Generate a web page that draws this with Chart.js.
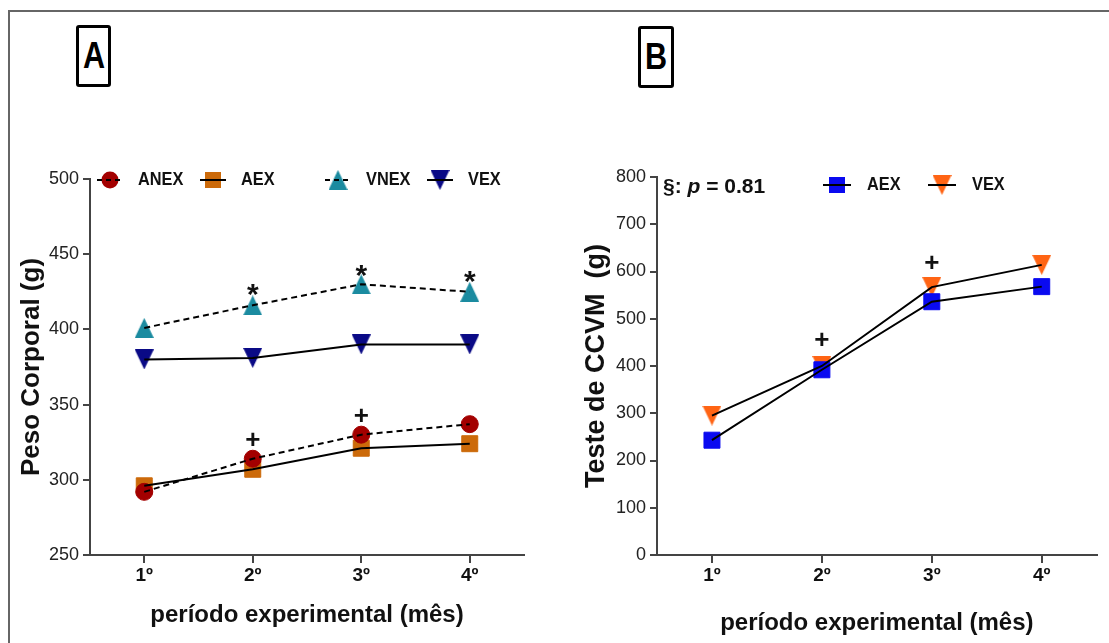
<!DOCTYPE html>
<html>
<head>
<meta charset="utf-8">
<script src="https://cdn.jsdelivr.net/npm/chart.js"></script>
<style>
  body { margin: 0; background: #fff; width: 1109px; height: 643px; overflow: hidden; position: relative; font-family: Arial, "Liberation Sans", sans-serif; }
  #frame { position: absolute; left: 8px; top: 10px; width: 1200px; height: 700px; border-left: 2px solid #666; border-top: 2px solid #666; }
  .tag { position: absolute; border: 3px solid #000; border-radius: 3px; box-sizing: border-box; display: flex; align-items: center; justify-content: center; font: bold 36px Arial, "Liberation Sans", sans-serif; color: #000; }
  .tag span { display: inline-block; transform: scaleX(0.85); }
  canvas { position: absolute; top: 0; }
</style>
</head>
<body>
<div id="frame"></div>
<div class="tag" style="left:76px;top:25px;width:35px;height:62px"><span>A</span></div>
<div class="tag" style="left:638px;top:26px;width:36px;height:62px"><span>B</span></div>
<canvas id="chartA" width="555" height="643" style="left:0"></canvas>
<canvas id="chartB" width="554" height="643" style="left:555px"></canvas>
<script>
// meses do periodo experimental
const months = ['1º', '2º', '3º', '4º'];

// painel A - peso corporal (g)
const anex = [292, 314, 330, 337];
const aexA = [296, 307, 321, 324];
const vnex = [401, 416, 430, 425];
const vexA = [380, 381, 390, 390];
const starA = [null, 427, 440, 436];
const plusA = [null, 326, 342, null];
const ticksA = [250, 300, 350, 400, 450, 500];

// painel B - teste de CCVM (g)
const aexB = [243, 392, 536, 568];
const vexB = [295, 400, 567, 614];
const plusB = [null, 454, 616, null];
const ticksB = [0, 100, 200, 300, 400, 500, 600, 700, 800];

Chart.defaults.font.family = 'Arial, "Liberation Sans", sans-serif';
const drawPoint = Chart.helpers.drawPoint;

// triangulo um pouco mais alto que equilatero, como no original
function tri(color, down) {
  const c = document.createElement('canvas');
  c.width = 19; c.height = 20;
  const g = c.getContext('2d');
  g.fillStyle = color;
  g.beginPath();
  if (down) { g.moveTo(0, 0); g.lineTo(19, 0); g.lineTo(9.5, 20); }
  else { g.moveTo(9.5, 0); g.lineTo(19, 20); g.lineTo(0, 20); }
  g.closePath();
  g.fill();
  return c;
}

// marcador + linha preta por cima (como no GraphPad)
function serie(data, color, style, radius, dashed, ord) {
  return [
    { data, showLine: false, pointStyle: style, pointRadius: radius, pointHoverRadius: radius,
      pointBackgroundColor: color, pointBorderColor: color, pointBorderWidth: 1, order: ord },
    { data, showLine: true, borderColor: '#000', borderWidth: 2, borderDash: dashed ? [6, 4] : [],
      pointRadius: 0, pointHoverRadius: 0, tension: 0, fill: false, order: 0 }
  ];
}

const extras = {
  id: 'extras',
  afterDatasetsDraw(chart, args, o) {
    const { ctx, chartArea, scales: { x, y } } = chart;
    ctx.save();
    ctx.textBaseline = 'middle';
    ctx.textAlign = 'center';
    ctx.fillStyle = '#111';
    for (const m of o.marks) {
      ctx.font = m.font;
      m.data.forEach((v, i) => {
        if (v !== null) ctx.fillText(m.text, x.getPixelForValue(i), y.getPixelForValue(v) + m.dy);
      });
    }
    // legenda
    ctx.textAlign = 'left';
    for (const it of o.legend) {
      const cx = chartArea.left + it.dx, cy = o.legendY;
      ctx.fillStyle = it.color;
      drawPoint(ctx, { pointStyle: it.style, radius: it.radius, rotation: 0, borderWidth: 0 }, cx, cy);
      ctx.strokeStyle = '#000';
      ctx.lineWidth = 2;
      ctx.setLineDash(it.dashed ? [5, 4] : []);
      ctx.beginPath();
      ctx.moveTo(cx - o.seg, cy);
      ctx.lineTo(cx + o.seg, cy);
      ctx.stroke();
      ctx.setLineDash([]);
      ctx.fillStyle = '#111';
      ctx.font = 'bold 19px Arial, "Liberation Sans", sans-serif';
      ctx.save();
      ctx.translate(cx + o.gap, cy);
      ctx.scale(0.86, 1);
      ctx.fillText(it.label, 0, 0);
      ctx.restore();
    }
    if (o.note) {
      let nx = chartArea.left + 6;
      const ny = o.noteY;
      ctx.fillStyle = '#111';
      ctx.font = 'bold 21px Arial, "Liberation Sans", sans-serif';
      ctx.fillText('§: ', nx, ny);
      nx += ctx.measureText('§: ').width;
      ctx.font = 'italic bold 21px Arial, "Liberation Sans", sans-serif';
      ctx.fillText('p', nx, ny);
      nx += ctx.measureText('p').width;
      ctx.font = 'bold 21px Arial, "Liberation Sans", sans-serif';
      ctx.fillText(' = 0.81', nx, ny);
    }
    ctx.restore();
  }
};

function axes(yTicks, yWidth, yTitle, yTitleSize, yTitlePad, xTitlePad) {
  return {
    x: {
      type: 'category', labels: months, offset: true,
      afterFit: s => { s.height = 88; },
      grid: { display: true, drawOnChartArea: false, offset: false, tickLength: 8, color: '#444', lineWidth: 2 },
      border: { display: true, color: '#444', width: 2 },
      ticks: { color: '#111', padding: 1, font: { size: 19, weight: 'bold' } },
      title: { display: true, text: 'período experimental (mês)', color: '#111',
        font: { size: 24, weight: 'bold' }, padding: { top: 0, bottom: xTitlePad } }
    },
    y: {
      min: yTicks[0], max: yTicks[yTicks.length - 1],
      afterBuildTicks: s => { s.ticks = yTicks.map(v => ({ value: v })); },
      afterFit: s => { s.width = yWidth; },
      grid: { display: true, drawOnChartArea: false, tickLength: 7, color: '#444', lineWidth: 2 },
      border: { display: true, color: '#444', width: 2 },
      ticks: { color: '#222', padding: 4, font: { size: 18 } },
      title: { display: true, text: yTitle, color: '#111',
        font: { size: yTitleSize, weight: 'bold' }, padding: { top: yTitlePad, bottom: 0 } }
    }
  };
}

const triVnex = tri('#1B8BA0', false);
const triVexA = tri('#0A0A86', true);
const triVexB = tri('#FF6414', true);

new Chart(document.getElementById('chartA'), {
  type: 'line',
  data: {
    labels: months,
    datasets: [
      ...serie(anex, '#A30000', 'circle', 8.5, true, 2),
      ...serie(aexA, '#CC6A0A', 'rect', 11.3, false, 3),
      ...serie(vnex, '#1B8BA0', triVnex, 10, true, 2),
      ...serie(vexA, '#0A0A86', triVexA, 10, false, 2)
    ]
  },
  options: {
    responsive: false, animation: false, events: [],
    layout: { padding: { left: 0, top: 179, right: 31, bottom: 0 } },
    scales: axes(ticksA, 90, 'Peso Corporal (g)', 26, 16, 13),
    plugins: {
      legend: { display: false }, tooltip: { enabled: false },
      extras: {
        legendY: 180, seg: 13, gap: 28,
        legend: [
          { label: 'ANEX', color: '#A30000', style: 'circle', radius: 8.5, dashed: true, dx: 20 },
          { label: 'AEX', color: '#CC6A0A', style: 'rect', radius: 11.3, dashed: false, dx: 123 },
          { label: 'VNEX', color: '#1B8BA0', style: triVnex, radius: 10, dashed: true, dx: 248 },
          { label: 'VEX', color: '#0A0A86', style: triVexA, radius: 10, dashed: false, dx: 350 }
        ],
        marks: [
          { data: starA, text: '*', font: 'bold 30px Arial, "Liberation Sans", sans-serif', dy: 7 },
          { data: plusA, text: '+', font: 'bold 26px Arial, "Liberation Sans", sans-serif', dy: 0 }
        ]
      }
    }
  },
  plugins: [extras]
});

new Chart(document.getElementById('chartB'), {
  type: 'line',
  data: {
    labels: months,
    datasets: [
      ...serie(vexB, '#FF6414', triVexB, 10, false, 3),
      ...serie(aexB, '#0A0AF0', 'rect', 11.3, false, 2)
    ]
  },
  options: {
    responsive: false, animation: false, events: [],
    layout: { padding: { left: 0, top: 177, right: 9, bottom: 0 } },
    scales: axes(ticksB, 102, 'Teste de CCVM  (g)', 27, 25, 5),
    plugins: {
      legend: { display: false }, tooltip: { enabled: false },
      extras: {
        legendY: 185, seg: 14, gap: 30, note: true, noteY: 187,
        legend: [
          { label: 'AEX', color: '#0A0AF0', style: 'rect', radius: 11.3, dashed: false, dx: 180 },
          { label: 'VEX', color: '#FF6414', style: triVexB, radius: 10, dashed: false, dx: 285 }
        ],
        marks: [
          { data: plusB, text: '+', font: 'bold 26px Arial, "Liberation Sans", sans-serif', dy: 0 }
        ]
      }
    }
  },
  plugins: [extras]
});
</script>
</body>
</html>
